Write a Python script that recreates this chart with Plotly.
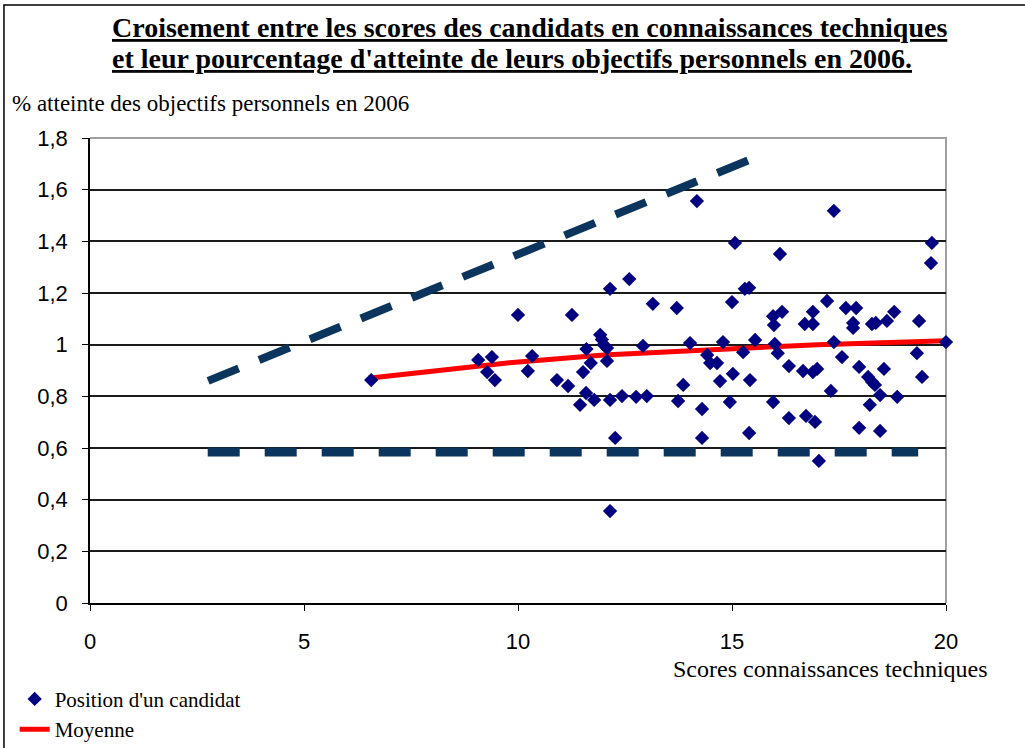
import plotly.graph_objects as go

# Scores (x) et % d'atteinte des objectifs (y) de chaque candidat
score_x = [6.57, 9.07, 9.39, 9.28, 9.46, 10.0, 10.33, 10.23, 10.91, 11.17,
           11.26, 11.45, 11.52, 11.59, 11.6, 11.7, 11.78, 11.92, 11.96, 12.0,
           12.08, 12.08, 12.15, 12.15, 12.15, 12.27, 12.43, 12.6, 12.76, 12.92,
           13.01, 13.15, 13.71, 13.74, 13.86, 14.02, 14.18, 14.3, 14.3, 14.42,
           14.49, 14.65, 14.72, 14.79, 14.95, 15.0, 15.02, 15.07, 15.26, 15.3,
           15.4, 15.4, 15.42, 15.54, 15.96, 15.96, 15.98, 16.0, 16.07, 16.12,
           16.17, 16.33, 16.33, 16.66, 16.7, 16.73, 16.89, 16.89, 16.89, 16.94,
           16.99, 17.03, 17.22, 17.31, 17.38, 17.38, 17.57, 17.66, 17.83, 17.83,
           17.9, 17.97, 17.97, 18.18, 18.22, 18.27, 18.27, 18.34, 18.36, 18.46,
           18.46, 18.55, 18.62, 18.79, 18.86, 19.32, 19.37, 19.44, 19.65, 19.67,
           20.0]
score_y = [0.863, 0.941, 0.952, 0.894, 0.863, 1.115, 0.956, 0.898, 0.863, 0.84,
           1.115, 0.767, 0.894, 0.813, 0.983, 0.929, 0.786, 1.038, 1.02, 1.0,
           0.987, 0.937, 1.216, 0.786, 0.356, 0.639, 0.801, 1.254, 0.798, 0.995,
           0.801, 1.158, 1.142, 0.782, 0.844, 1.006, 1.556, 0.751, 0.639, 0.96,
           0.929, 0.929, 0.859, 1.01, 0.778, 1.165, 0.887, 1.394, 0.971, 1.216,
           1.22, 0.658, 0.863, 1.018, 1.11, 0.778, 1.076, 1.003, 0.967, 1.351,
           1.127, 0.917, 0.716, 0.898, 1.08, 0.724, 1.08, 1.127, 0.894, 0.701,
           0.906, 0.55, 1.169, 0.821, 1.518, 1.01, 0.952, 1.142, 1.084, 1.065,
           1.142, 0.914, 0.678, 0.875, 0.767, 1.08, 0.856, 0.844, 1.084, 0.805,
           0.666, 0.906, 1.092, 1.127, 0.798, 0.967, 1.092, 0.875, 1.316, 1.394,
           1.01]

# Moyenne
moyenne_x = [6.5, 8.2, 9.8, 12.0, 15.0, 17.0, 20.0]
moyenne_y = [0.87, 0.90, 0.93, 0.96, 0.985, 1.0, 1.015]

# Bornes (lignes en tirets)
haut_x = [2.76, 15.7]
haut_y = [0.86, 1.735]
bas_x = [2.75, 19.35]
bas_y = [0.585, 0.585]

titre_lignes = [
    "Croisement entre les scores des candidats en connaissances techniques",
    "et leur pourcentage d'atteinte de leurs objectifs personnels en 2006.",
]

NAVY_DASH = "#0b355c"
SERIF = "Liberation Serif, Times New Roman, serif"
SANS = "Liberation Sans, Arial, sans-serif"

fig = go.Figure()

fig.add_trace(go.Scatter(x=haut_x, y=haut_y, mode="lines", showlegend=False,
                         line=dict(color=NAVY_DASH, width=8, dash="33px,22px")))
fig.add_trace(go.Scatter(x=bas_x, y=bas_y, mode="lines", showlegend=False,
                         line=dict(color=NAVY_DASH, width=9, dash="32px,25px")))
fig.add_trace(go.Scatter(x=moyenne_x, y=moyenne_y, mode="lines", name="Moyenne",
                         legendrank=2, line=dict(color="#ff0000", width=5)))
fig.add_trace(go.Scatter(x=score_x, y=score_y, mode="markers",
                         name="Position d'un candidat", cliponaxis=False, legendrank=1,
                         marker=dict(symbol="diamond", size=11, color="#000080")))

fig.update_layout(
    width=1025, height=748,
    margin=dict(l=90, r=79, t=138, b=145, autoexpand=False),
    paper_bgcolor="white", plot_bgcolor="white",
    separators=", ",
    legend=dict(x=-0.088, y=-0.163, xanchor="left", yanchor="top",
                font=dict(family=SERIF, size=21, color="black"),
                bgcolor="rgba(0,0,0,0)", itemwidth=30, tracegroupgap=0),
    showlegend=True,
)

fig.update_xaxes(range=[0, 20], tickvals=[0, 5, 10, 15, 20], showgrid=False,
                 zeroline=False, showline=True, linecolor="black", linewidth=1.5,
                 ticks="outside", ticklen=6, tickcolor="black",
                 ticklabelstandoff=12,
                 tickfont=dict(family=SANS, size=22, color="black"))
fig.update_yaxes(range=[0, 1.8], dtick=0.2, showgrid=True, gridcolor="#1a1a1a",
                 gridwidth=1.5, zeroline=False, showline=True, linecolor="black",
                 linewidth=1.5, ticks="outside", ticklen=6, tickcolor="black",
                 ticklabelstandoff=10,
                 tickfont=dict(family=SANS, size=22, color="black"))

# cadre gris de la zone de tracé (haut et droite)
fig.add_shape(type="path", xref="paper", yref="paper", path="M 0 1 L 1 1 L 1 0",
              line=dict(color="#a0a0a0", width=2), layer="between")
# cadre extérieur
fig.add_shape(type="rect", xref="paper", yref="paper",
              x0=-0.1005, x1=1.1, y0=-0.33, y1=1.286,
              line=dict(color="black", width=1.5), layer="above")

# titre (deux lignes soulignées, alignées à gauche)
for ligne, ypos in zip(titre_lignes, [1.237, 1.172]):
    fig.add_annotation(text="<b>" + ligne + "</b>", xref="paper", yref="paper",
                       x=0.0234, y=ypos, xanchor="left", yanchor="middle",
                       showarrow=False,
                       font=dict(family=SERIF, size=28, color="black",
                                 lineposition="under"))

fig.add_annotation(text="% atteinte des objectifs personnels en 2006",
                   xref="paper", yref="paper", x=-0.093, y=1.075,
                   xanchor="left", yanchor="middle", showarrow=False,
                   font=dict(family=SERIF, size=23, color="black"))
fig.add_annotation(text="Scores connaissances techniques",
                   xref="paper", yref="paper", x=1.051, y=-0.142,
                   xanchor="right", yanchor="middle", showarrow=False,
                   font=dict(family=SERIF, size=24, color="black"))

fig.write_html("out.html", config={"displayModeBar": False},
               post_script="document.body.style.margin='0';")
